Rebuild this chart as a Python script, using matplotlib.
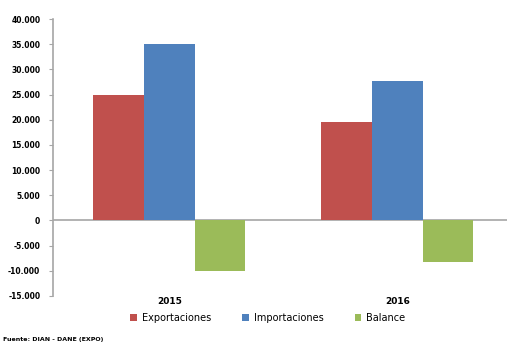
import numpy as np
import matplotlib
matplotlib.use('Agg')
import matplotlib.pyplot as plt
from matplotlib.ticker import FuncFormatter

years = ['2015', '2016']
series = ['Exportaciones', 'Importaciones', 'Balance']
exportaciones = [25000, 19500]
importaciones = [35000, 27700]
balance = [-10000, -8300]
colors = ['#C0504D', '#4F81BD', '#9BBB59']

fig = plt.figure(figsize=(5.08, 3.46), dpi=100)
ax = fig.add_axes([0.104, 0.145, 0.894, 0.80])

x = np.arange(len(years))
width = 0.222
for i, (name, vals) in enumerate(zip(series, [exportaciones, importaciones, balance])):
    ax.bar(x + (i - 1) * width, vals, width, color=colors[i], label=name,
           edgecolor='none', zorder=2)

ax.axhline(0, color='#A6A6A6', lw=1.2, zorder=1)
ax.set_xlim(-0.51, 1.48)
ax.set_ylim(-15000, 40000)
ax.set_yticks(np.arange(-15000, 40001, 5000))
ax.yaxis.set_major_formatter(FuncFormatter(lambda v, p: f'{int(v):,}'.replace(',', '.')))
ax.set_xticks(x)
ax.set_xticklabels(years, fontsize=6.5, fontweight='bold')
ax.tick_params(axis='x', length=0, pad=1)
ax.tick_params(axis='y', labelsize=5.5, length=3, color='#A6A6A6', pad=6)
for t in ax.get_yticklabels():
    t.set_fontweight('bold')

for s in ['top', 'right', 'bottom']:
    ax.spines[s].set_visible(False)
ax.spines['left'].set_color('#A6A6A6')
ax.spines['left'].set_linewidth(1.2)

fig.legend(loc='center', bbox_to_anchor=(0.527, 0.081), ncol=3, frameon=False,
           fontsize=7, handlelength=0.7, handleheight=0.6, columnspacing=3.2,
           handletextpad=0.5)
fig.text(0.006, 0.015, 'Fuente: DIAN - DANE (EXPO)', fontsize=4.5, fontweight='bold')

fig.savefig('out.png', dpi=100)
